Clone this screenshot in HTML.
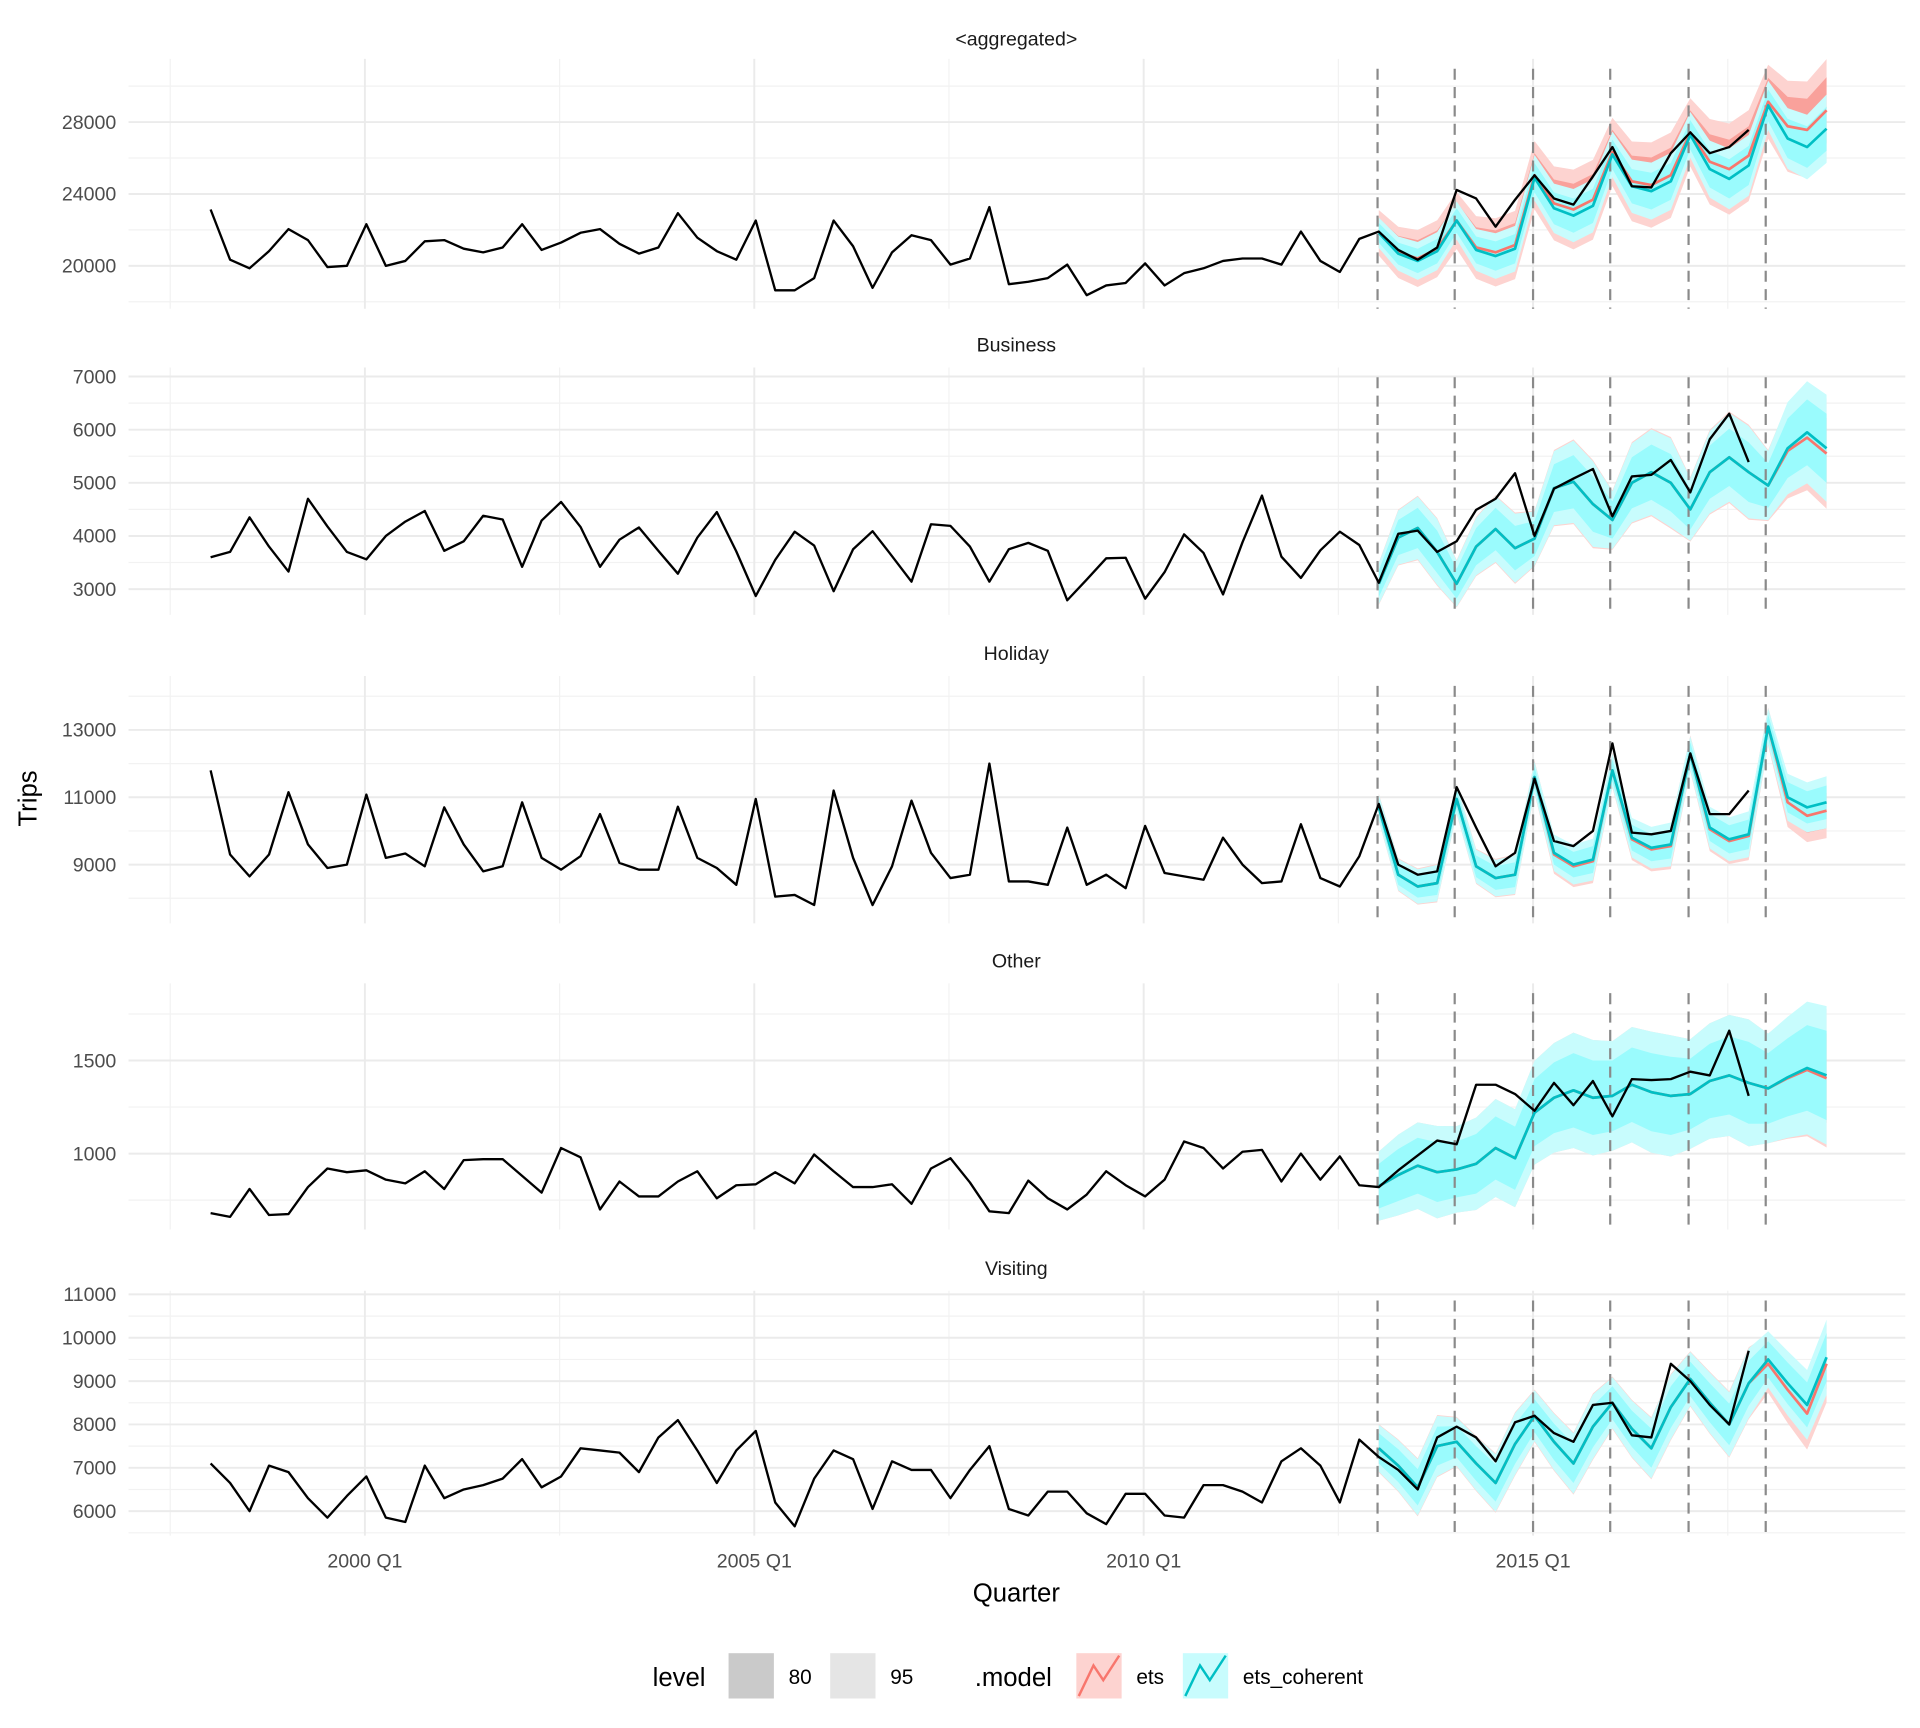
<!DOCTYPE html>
<html><head><meta charset="utf-8"><style>
html,body{margin:0;padding:0;background:#fff}
svg{display:block}
text{font-family:"Liberation Sans",sans-serif}
</style></head><body>
<svg id="s" width="1920" height="1728" viewBox="0 0 1568 1411" xmlns="http://www.w3.org/2000/svg">
<g id="g"></g>
<text x="830" y="37" font-size="16" text-anchor="middle" fill="#1a1a1a">&lt;aggregated&gt;</text>
<text x="830" y="287" font-size="16" text-anchor="middle" fill="#1a1a1a">Business</text>
<text x="830" y="539" font-size="16" text-anchor="middle" fill="#1a1a1a">Holiday</text>
<text x="830" y="790" font-size="16" text-anchor="middle" fill="#1a1a1a">Other</text>
<text x="830" y="1041" font-size="16" text-anchor="middle" fill="#1a1a1a">Visiting</text>
<text x="298" y="1280" font-size="16" text-anchor="middle" fill="#4d4d4d">2000 Q1</text>
<text x="616" y="1280" font-size="16" text-anchor="middle" fill="#4d4d4d">2005 Q1</text>
<text x="934" y="1280" font-size="16" text-anchor="middle" fill="#4d4d4d">2010 Q1</text>
<text x="1252" y="1280" font-size="16" text-anchor="middle" fill="#4d4d4d">2015 Q1</text>
<text x="830" y="1308" font-size="21" text-anchor="middle" fill="#000">Quarter</text>
<text x="0" y="0" font-size="21" text-anchor="middle" fill="#000" transform="translate(30,652) rotate(-90)">Trips</text>
<text x="533" y="1377" font-size="21" fill="#000">level</text>
<rect x="595" y="1350" width="37" height="37" fill="#cacaca"/>
<text x="644" y="1375" font-size="17" fill="#000">80</text>
<rect x="678" y="1350" width="37" height="37" fill="#e5e5e5"/>
<text x="727" y="1375" font-size="17" fill="#000">95</text>
<text x="796" y="1377" font-size="21" fill="#000">.model</text>
<rect x="879" y="1350" width="37" height="37" fill="#fdd3d0"/>
<polyline points="881,1385 893,1360 901,1372 914,1352" fill="none" stroke="#F8766D" stroke-width="2"/>
<text x="928" y="1375" font-size="17" fill="#000">ets</text>
<rect x="966" y="1350" width="37" height="37" fill="#c8fcfd"/>
<polyline points="968,1385 980,1360 988,1372 1001,1352" fill="none" stroke="#00BFC4" stroke-width="2"/>
<text x="1015" y="1375" font-size="17" fill="#000">ets_coherent</text>
</svg>
<script>
var g=document.getElementById('g');var NS='http://www.w3.org/2000/svg';
function el(t,a){var e=document.createElementNS(NS,t);for(var k in a)e.setAttribute(k,a[k]);g.appendChild(e);return e;}
function X(i){return 172+i*15.9;}
var P=[
{ef:1.5,top:48,bot:252,ref:20000,refy:217,k:58.7/4000,ticks:[20000,24000,28000],minor:[18000,22000,26000,30000],
obs:null,obsPx:[171,212,219,205,187,196,218,217,183,217,213,197,196,203,206,202,183,204,198,190,187,199,207,202,174,194,205,212,180,237,237,227,180,201,235,206,192,196,216,211,169,232,230,227,216,241,233,231,215,233,223,219,213,211,211,216,189,213,222,195,189,204,212,202,155,162,185,163,143,162,167,144,120,152,153,125,108,125,120,106],
fcPx:[190,207,213,205,180,204,209,203,145,170,176,168,126,152,156,148,110,138,146,135,86,113,120,105],
etsD:[0,-1,-2,-2,0,-2,-3,-3,-2,-4,-5,-5,-2,-4,-5,-5,-2,-6,-8,-8,-3,-10,-14,-15],b80:[8,9,10,10,10,11,12,12,12,13,14,14,12,14,15,15,12,15,16,16,13,16,17,18],px:true},
{ef:1.03,top:300,bot:502,ref:3000,refy:481,k:43.4/1000,ticks:[3000,4000,5000,6000,7000],minor:[2500,3500,4500,5500,6500],
obs:[3600,3700,4350,3800,3330,4700,4180,3700,3560,4000,4270,4470,3720,3900,4380,4310,3420,4290,4640,4170,3420,3930,4160,3720,3290,3970,4450,3710,2870,3550,4080,3820,2960,3750,4090,3620,3140,4220,4190,3800,3140,3750,3870,3720,2790,3180,3580,3590,2820,3320,4030,3680,2900,3880,4760,3610,3210,3730,4080,3830,3120,4040,4100,3700,3900,4490,4700,5180,4000,4890,5080,5260,4370,5120,5150,5430,4820,5820,6300,5390],
fc:[3100,3970,4150,3700,3100,3800,4130,3770,3950,4900,5020,4600,4300,5000,5200,5000,4500,5200,5480,5200,4950,5650,5950,5650],
etsD:[0,0,0,0,0,0,0,0,0,0,0,0,0,0,0,0,0,0,0,0,0,-50,-100,-100],b80:[250,330,380,400,280,350,400,420,330,450,500,520,350,480,520,540,380,500,540,560,420,560,620,650]},
{ef:1.05,top:552,bot:754,ref:9000,refy:706,k:27.5/1000,ticks:[9000,11000,13000],minor:[8000,10000,12000,14000],
obs:[11800,9300,8650,9300,11150,9600,8900,9000,11080,9200,9330,8950,10700,9600,8800,8950,10850,9200,8850,9250,10500,9050,8850,8850,10720,9200,8900,8400,10950,8050,8100,7800,11200,9200,7800,8950,10900,9350,8600,8700,12000,8500,8500,8400,10100,8400,8700,8300,10150,8750,8650,8550,9800,9000,8450,8500,10200,8600,8350,9250,10800,9000,8700,8800,11300,10100,8950,9350,11550,9700,9550,10000,12600,9950,9900,10000,12300,10500,10500,11200],
fc:[10700,8700,8350,8450,10950,8950,8600,8700,11600,9350,9000,9150,11800,9800,9500,9600,12300,10100,9750,9900,13100,11000,10700,10850],
etsD:[0,0,0,0,0,0,0,0,0,-50,-50,-50,0,-50,-50,-50,0,-50,-50,-50,0,-150,-250,-250],b80:[250,300,330,350,280,320,350,370,300,350,380,400,320,380,400,420,330,400,420,440,350,450,480,500]},
{ef:1.0,top:803,bot:1004,ref:1000,refy:942,k:76/500,ticks:[1000,1500],minor:[750,1250,1750],
obs:[680,660,810,670,675,820,920,900,910,860,840,905,810,965,970,970,880,790,1030,980,700,850,770,770,850,905,760,830,835,900,840,995,905,820,820,835,730,920,975,845,690,680,855,760,700,780,905,830,770,860,1065,1030,920,1010,1020,850,1000,860,985,830,820,910,990,1070,1050,1370,1370,1320,1230,1380,1260,1390,1200,1400,1395,1400,1440,1420,1660,1310],
fc:[825,885,935,900,915,945,1030,975,1220,1300,1340,1300,1310,1370,1330,1310,1320,1390,1420,1380,1350,1410,1460,1420],
etsD:[0,0,0,0,0,0,0,0,0,0,0,0,0,0,0,0,0,0,0,0,0,-5,-10,-15],b80:[120,140,150,160,150,160,170,170,180,190,200,200,190,200,210,210,190,200,210,220,190,210,230,240]},
{ef:1.03,top:1054,bot:1254,ref:6000,refy:1234,k:35.4/1000,ticks:[6000,7000,8000,9000,10000,11000],minor:[5500,6500,7500,8500,9500,10500],
obs:[7100,6650,6000,7050,6900,6300,5850,6350,6800,5850,5750,7050,6300,6500,6600,6750,7200,6550,6800,7450,7400,7350,6900,7700,8100,7400,6650,7400,7850,6200,5650,6750,7400,7200,6050,7150,6950,6950,6300,6950,7500,6050,5900,6450,6450,5950,5700,6400,6400,5900,5850,6600,6600,6450,6200,7150,7450,7050,6200,7650,7250,6950,6500,7700,7950,7700,7150,8050,8200,7800,7600,8450,8500,7750,7700,9400,9000,8450,8000,9700],
fc:[7450,7050,6550,7500,7600,7100,6650,7550,8200,7600,7100,7950,8500,7900,7450,8400,9050,8500,8000,8950,9500,8950,8450,9550],
etsD:[0,0,0,0,0,0,0,0,0,0,0,0,0,0,0,0,0,0,0,0,-100,-150,-200,-150],b80:[350,380,420,450,360,400,430,460,380,420,450,480,380,420,450,480,400,450,480,520,420,480,520,560]}
];
P.forEach(function(p){
 var Y=function(v){return p.refy-(v-p.ref)*p.k;};
 p.minor.forEach(function(v){var y=Y(v);if(y>p.top&&y<p.bot)el('line',{x1:105,x2:1556,y1:y,y2:y,stroke:'#f2f2f2','stroke-width':1});});
 [139,457,775,1093,1411].forEach(function(x){el('line',{x1:x,x2:x,y1:p.top,y2:p.bot,stroke:'#f2f2f2','stroke-width':1});});
 [298,616,934,1252].forEach(function(x){el('line',{x1:x,x2:x,y1:p.top,y2:p.bot,stroke:'#ebebeb','stroke-width':1.6});});
 p.ticks.forEach(function(v){var y=Y(v);el('line',{x1:105,x2:1556,y1:y,y2:y,stroke:'#ebebeb','stroke-width':1.6});
  var t=el('text',{x:95,y:y+5.5,'font-size':16,'text-anchor':'end',fill:'#4d4d4d'});t.textContent=v;});
 var fc=[],ets=[],b80=[],b95=[];
 for(var i=0;i<24;i++){
  if(p.px){fc.push(p.fcPx[i]);ets.push(p.fcPx[i]+p.etsD[i]);b80.push(p.b80[i]);}
  else{fc.push(Y(p.fc[i]));ets.push(Y(p.fc[i]+p.etsD[i]));b80.push(p.b80[i]*p.k);}
  b95.push(b80[i]*1.55);
 }
 function band(c,w,f,op){var a=[],b=[];for(var i=0;i<24;i++){var x=X(60+i);a.push(x+','+(c[i]-w[i]));b.unshift(x+','+(c[i]+w[i]));}
  el('polygon',{points:a.concat(b).join(' '),fill:f,'fill-opacity':op});}
 var ew95=b95.map(function(v){return v*p.ef;}),ew80=b80.map(function(v){return v*p.ef;});
 band(ets,ew95,'#fdd3d0',1);band(ets,ew80,'#f9a19b',1);
 band(fc,b95,'#c8fcfd',1);band(fc,b80,'#9afbfd',1);
 [1125,1188,1252,1315,1379,1442].forEach(function(x){el('line',{x1:x,x2:x,y1:p.top+8,y2:p.bot,stroke:'#8a8a8a','stroke-width':1.8,'stroke-dasharray':'9,6'});});
 function line(arr,off,col,w){var s=arr.map(function(y,i){return X(off+i)+','+y;}).join(' ');el('polyline',{points:s,fill:'none',stroke:col,'stroke-width':w,'stroke-linejoin':'round'});}
 line(ets,60,'#F8766D',2.2);line(fc,60,'#00BFC4',2.2);
 var ob=p.px?p.obsPx:p.obs.map(Y);line(ob,0,'#000',1.9);
});
</script>
</body></html>
